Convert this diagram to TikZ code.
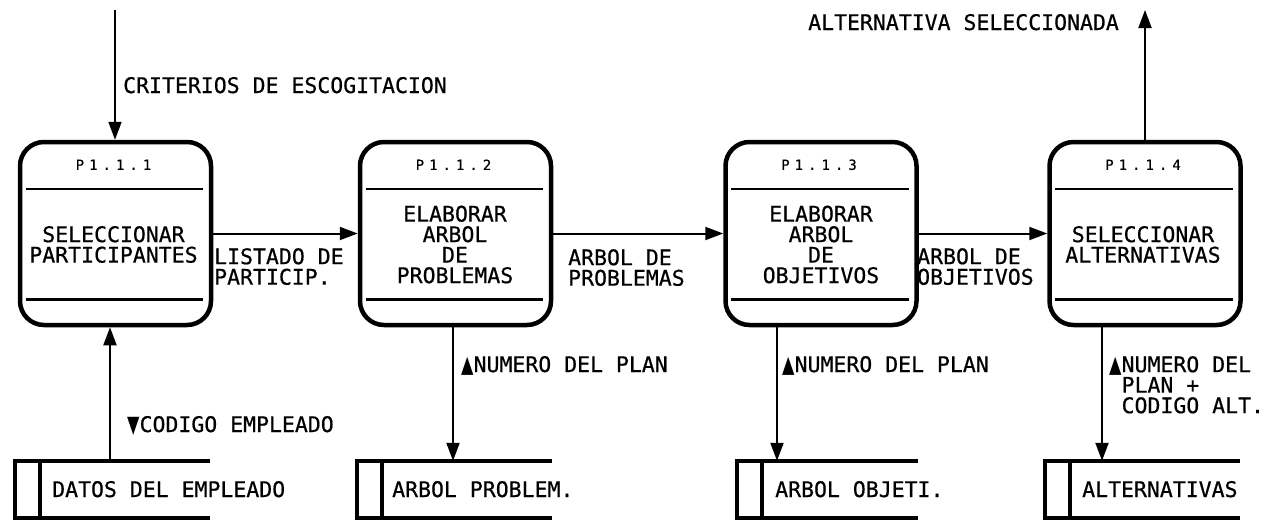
\documentclass[tikz,border=0pt]{standalone}
\usepackage{fontspec}
\newfontfamily\dfont[FakeBold=0.6]{DejaVu Sans Mono}
\newfontfamily\symfont{DejaVu Sans}
\usetikzlibrary{arrows.meta,calc}
\newcommand\up{{\symfont\scalebox{0.75}[1.1]{▲}}}
\newcommand\down{{\symfont\scalebox{0.75}[1.1]{▼}}}
\newcommand\pnum[1]{P\kern5pt1\kern5pt.\kern5pt1\kern5pt.\kern5pt#1}
\tikzset{
  proc/.style={draw, line width=4.5pt, rounded corners=24pt, minimum width=191pt, minimum height=183pt, inner sep=0pt},
  divider/.style={line width=2.5pt},
  storebox/.style={minimum height=57pt, inner sep=0pt},
  storeline/.style={line width=3.8pt},
  flow/.style={line width=2pt, -{Triangle[length=18pt,width=13pt]}},
  txt/.style={font=\dfont\fontsize{21.5}{20.5}\selectfont, inner sep=0pt},
  lbl/.style={txt, align=left},
  boxtxt/.style={txt, align=center},
  pid/.style={font=\dfont\fontsize{14}{14}\selectfont, inner sep=0pt}
}
\begin{document}
\begin{tikzpicture}[x=1pt,y=-1pt]
\useasboundingbox (0,0) rectangle (1273,520);
% process boxes
\node[proc] (p1) at (115.5,233.5) {};
\node[proc] (p2) at (455.5,233.5) {};
\node[proc] (p3) at (821,233.5) {};
\node[proc] (p4) at (1145,233.5) {};
\foreach \p/\n in {p1/1,p2/2,p3/3,p4/4}{
  \draw[divider] ($(\p.north west)+(8,49)$) -- ($(\p.north east)+(-10,49)$);
  \draw[divider] ($(\p.south west)+(8,-28)$) -- ($(\p.south east)+(-10,-28)$);
  \node[pid] (\p id) at ($(\p.north)+(-2,25)$) {\pnum{\n}};
}
\node[boxtxt] (p1t) at (113.5,244.5) {SELECCIONAR\\PARTICIPANTES};
\node[boxtxt] (p2t) at (455,244.5) {ELABORAR\\ARBOL\\DE\\PROBLEMAS};
\node[boxtxt] (p3t) at (821,244.5) {ELABORAR\\ARBOL\\DE\\OBJETIVOS};
\node[boxtxt] (p4t) at (1143,244.5) {SELECCIONAR\\ALTERNATIVAS};
% data stores
\foreach \s/\l/\r in {s1/15/210, s2/357/552, s3/737/918, s4/1045/1240}{
  \node[storebox, minimum width=\r-\l] (\s) at ({(\l+\r)/2},489.5) {};
  \draw[storeline] (\s.north east) -- (\s.north west) -- (\s.south west) -- (\s.south east);
  \draw[storeline] ($(\s.north west)+(25,0)$) -- ($(\s.south west)+(25,0)$);
}
\node[txt, anchor=base west] (s1t) at (52,497) {DATOS DEL EMPLEADO};
\node[txt, anchor=base west] (s2t) at (392,497) {ARBOL PROBLEM.};
\node[txt, anchor=base west] (s3t) at (775,497) {ARBOL OBJETI.};
\node[txt, anchor=base west] (s4t) at (1082,497) {ALTERNATIVAS};
% external flows
\coordinate (cin) at (115,10);
\coordinate (cout) at (1145,10);
\draw[flow] (cin) -- (cin |- p1.north);
\draw[flow] (cout |- p4.north) -- (cout);
\node[txt, anchor=base west] (lin) at (123,93) {CRITERIOS DE ESCOGITACION};
\node[txt, anchor=base west] (lout) at (808,30) {ALTERNATIVA SELECCIONADA};
% horizontal flows
\draw[flow] (p1.east) -- (p2.west);
\draw[flow] (p2.east) -- (p3.west);
\draw[flow] (p3.east) -- (p4.west);
\node[lbl, anchor=north west] (l12) at (214,248) {LISTADO DE\\PARTICIP.};
\node[lbl, anchor=north west] (l23) at (568,249) {ARBOL DE\\PROBLEMAS};
\node[lbl, anchor=north west] (l34) at (917,248) {ARBOL DE\\OBJETIVOS};
% vertical flows
\draw[flow] ([xshift=-2.5pt]s1.north) -- ([xshift=-2.5pt]s1.north |- p1.south);
\draw[flow] ([xshift=-2.5pt]p2.south) -- ([xshift=-2.5pt]p2.south |- s2.north);
\draw[flow] ([xshift=-44pt]p3.south) -- ([xshift=-44pt]p3.south |- s3.north);
\draw[flow] ([xshift=-43pt]p4.south) -- ([xshift=-43pt]p4.south |- s4.north);
\node[txt, anchor=base west] (ls1) at (127,432) {\down CODIGO EMPLEADO};
\node[txt, anchor=base west] (ls2) at (461,372) {\up NUMERO DEL PLAN};
\node[txt, anchor=base west] (ls3) at (782,372) {\up NUMERO DEL PLAN};
\node[lbl, anchor=north west] (ls4) at (1109,356) {\up NUMERO DEL\\\phantom{\up}PLAN +\\\phantom{\up}CODIGO ALT.};
\end{tikzpicture}
\end{document}
